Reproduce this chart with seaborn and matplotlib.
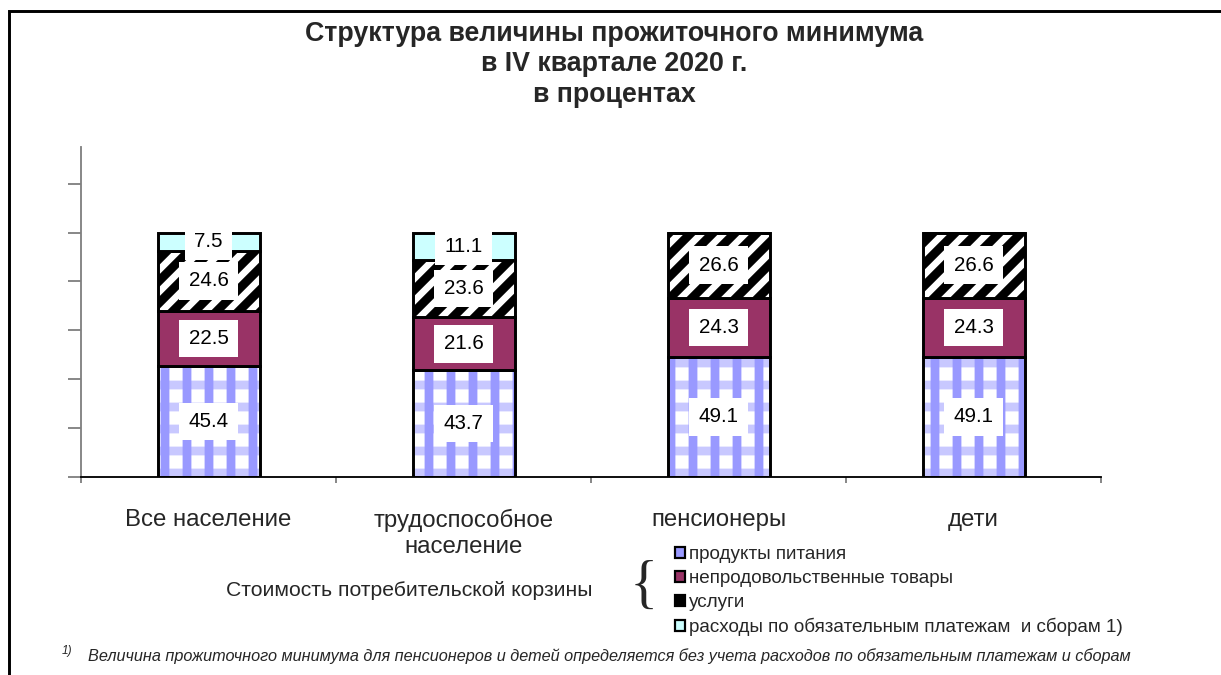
import matplotlib
matplotlib.use("Agg")
import matplotlib.pyplot as plt
from matplotlib.patches import Patch, Rectangle
import numpy as np
import seaborn as sns

# data (percent)
categories = ["Все население", "трудоспособное\nнаселение", "пенсионеры", "дети"]
food = [45.4, 43.7, 49.1, 49.1]
nonfood = [22.5, 21.6, 24.3, 24.3]
services = [24.6, 23.6, 26.6, 26.6]
payments = [7.5, 11.1, 0.0, 0.0]
series_names = ["продукты питания", "непродовольственные товары", "услуги",
                "расходы по обязательным платежам  и сборам 1)"]

title = "Структура величины прожиточного минимума\nв IV квартале 2020 г.\nв процентах"
basket_text = "Стоимость потребительской корзины"
footnote = "Величина прожиточного минимума для пенсионеров и детей определяется без учета расходов по обязательным платежам и сборам"

sns.set_style("white")
plt.rcParams["font.family"] = ["Liberation Sans", "DejaVu Sans"]
plt.rcParams["hatch.linewidth"] = 4.8

DPI = 132
fig = plt.figure(figsize=(1221 / DPI, 675 / DPI), dpi=DPI)
ax = fig.add_axes([81 / 1221, 1 - 477 / 675, 1020 / 1221, 330 / 675])

bar_w = 0.4
edge_lw = 1.6


def layer(values, bottom, color, fill=True, **kws):
    sns.barplot(x=categories, y=values, bottom=bottom, width=bar_w, ax=ax,
                errorbar=None, color=color, saturation=1, fill=fill, **kws)


bottom = np.zeros(len(categories))

# food: white with light horizontal bands and blue vertical stripes
layer(food, bottom, "white", edgecolor="#c8c8ff", hatch="-", linewidth=0)
layer(food, bottom, "#9999ff", fill=False, hatch="|", linewidth=0)
layer(food, bottom, "black", fill=False, linewidth=edge_lw)
bottom = bottom + np.array(food)

# non-food goods
layer(nonfood, bottom, "#993366", edgecolor="black", linewidth=edge_lw)
bottom = bottom + np.array(nonfood)

# services: black diagonal stripes
layer(services, bottom, "white", edgecolor="black", hatch="//", linewidth=0)
layer(services, bottom, "black", fill=False, linewidth=edge_lw)
bottom = bottom + np.array(services)

# obligatory payments
layer(payments, bottom, "#ccffff", edgecolor="black", linewidth=edge_lw)

# value labels in white boxes
starts = np.zeros(len(categories))
for vals in [food, nonfood, services, payments]:
    for i, v in enumerate(vals):
        if v > 0:
            ax.text(i, starts[i] + v / 2, f"{v:.1f}", ha="center", va="center",
                    fontsize=11.2, color="black", zorder=5,
                    bbox=dict(boxstyle="square,pad=0.45", facecolor="white",
                              edgecolor="none"))
    starts = starts + np.array(vals)

ax.set_ylim(0, 135)
ax.set_xlim(-0.5, len(categories) - 0.5)
ax.set_yticks(np.arange(0, 121, 20))
ax.set_yticklabels([])
ax.tick_params(axis="y", direction="out", length=7, width=1, color="#808080", left=True)
ax.set_xticks(range(len(categories)))
ax.set_xticklabels(categories, fontsize=13.1, linespacing=1.25)
ax.tick_params(axis="x", which="major", length=0, pad=17.5)
ax.set_xticks(np.arange(-0.5, len(categories), 1.0), minor=True)
ax.tick_params(axis="x", which="minor", direction="out", length=3.5, width=1,
               color="#808080", bottom=True)
ax.set_xlabel("")
ax.set_ylabel("")
for s in ["top", "right"]:
    ax.spines[s].set_visible(False)
ax.spines["left"].set_color("#808080")
ax.spines["bottom"].set_color("black")
ax.spines["left"].set_linewidth(1)
ax.spines["bottom"].set_linewidth(1)

fig.text(0.503, 1 - 21 / 675, title, ha="center", va="top", fontsize=14.6,
         fontweight="bold", linespacing=1.22)

# legend
handles = [
    Patch(facecolor="#9999ff", edgecolor="black", linewidth=1.2),
    Patch(facecolor="#993366", edgecolor="black", linewidth=1.2),
    Patch(facecolor="black", edgecolor="black", linewidth=1.2),
    Patch(facecolor="#ccffff", edgecolor="black", linewidth=1.2),
]
fig.legend(handles, series_names, loc="upper left",
           bbox_to_anchor=(675 / 1221, 1 - 546 / 675), frameon=False,
           fontsize=10.3, handlelength=0.55, handleheight=0.55,
           handletextpad=0.2, labelspacing=0.37, borderpad=0, borderaxespad=0)

fig.text(409 / 1221, 1 - 590 / 675, basket_text, ha="center", va="center",
         fontsize=11.5)
fig.text(644 / 1221, 1 - 588 / 675, "{", ha="center", va="center",
         fontsize=32, family="Liberation Serif", fontweight="light")

fig.text(62 / 1221, 1 - 651 / 675, "1)", ha="left", va="center",
         fontsize=6.5, style="italic")
fig.text(88 / 1221, 1 - 656 / 675, footnote, ha="left", va="center",
         fontsize=8.9, style="italic")

# outer frame (only left and top edges inside the picture)
fig.patches.append(Rectangle((9 / 1221, -0.1), 1.2, 1.1 - 11 / 675,
                             transform=fig.transFigure, fill=False,
                             edgecolor="black", linewidth=1.6))

fig.savefig("out.png", dpi=DPI)
